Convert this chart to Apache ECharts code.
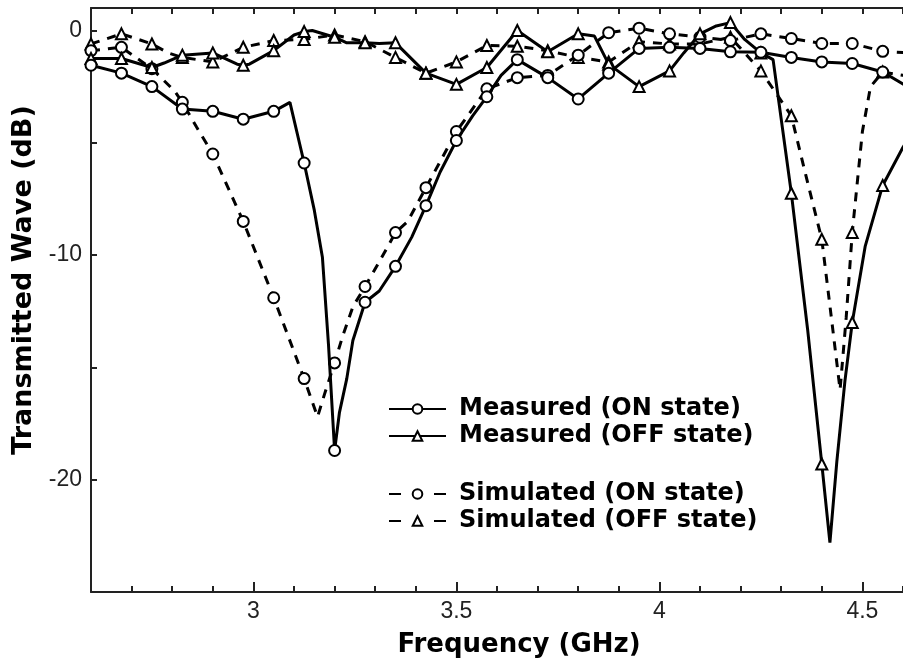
<!DOCTYPE html>
<html><head><meta charset="utf-8">
<script src="https://cdn.jsdelivr.net/npm/echarts@6/dist/echarts.min.js"></script>
<style>html,body{margin:0;padding:0;background:#fff}#c{width:903px;height:667px}</style>
</head><body><div id="c"></div><script>
// ---- data (frequency in GHz, transmission in dB) ----
const measOnX = [2.6, 2.675, 2.75, 2.825, 2.9, 2.975, 3.05, 3.09, 3.125, 3.15, 3.17, 3.185, 3.2, 3.212, 3.23, 3.245, 3.275, 3.31, 3.35, 3.39, 3.425, 3.46, 3.5, 3.54, 3.575, 3.61, 3.65, 3.725, 3.8, 3.875, 3.95, 4.025, 4.1, 4.175, 4.25, 4.325, 4.4, 4.475, 4.55, 4.62];
const measOnY = [-1.55, -1.9, -2.5, -3.5, -3.6, -3.95, -3.6, -3.2, -5.9, -8.0, -10.1, -14.0, -18.7, -17.0, -15.5, -13.8, -12.1, -11.6, -10.5, -9.2, -7.8, -6.3, -4.9, -3.8, -2.95, -2.0, -1.3, -2.1, -3.05, -1.9, -0.8, -0.75, -0.8, -0.95, -0.97, -1.2, -1.4, -1.47, -1.85, -2.6];

const measOffX = [2.6, 2.675, 2.75, 2.78, 2.825, 2.9, 2.96, 2.975, 2.99, 3.05, 3.1, 3.125, 3.145, 3.2, 3.23, 3.275, 3.31, 3.35, 3.425, 3.5, 3.575, 3.65, 3.725, 3.8, 3.84, 3.875, 3.95, 4.025, 4.06, 4.1, 4.14, 4.175, 4.21, 4.25, 4.28, 4.325, 4.365, 4.4, 4.42, 4.437, 4.457, 4.475, 4.507, 4.55, 4.6, 4.65];
const measOffY = [-1.25, -1.25, -1.65, -1.45, -1.1, -1.0, -1.5, -1.55, -1.5, -0.9, -0.2, -0.05, 0.0, -0.3, -0.55, -0.55, -0.58, -0.55, -1.9, -2.4, -1.65, 0.0, -0.95, -0.15, -0.25, -1.5, -2.5, -1.8, -1.0, -0.15, 0.2, 0.35, -0.4, -1.0, -1.3, -7.25, -13.3, -19.3, -22.8, -19.2, -15.6, -13.0, -9.6, -6.9, -5.2, -3.8];

const simOnX = [2.6, 2.675, 2.75, 2.806, 2.825, 2.86, 2.9, 2.94, 2.975, 3.05, 3.125, 3.158, 3.175, 3.2, 3.22, 3.245, 3.275, 3.31, 3.35, 3.38, 3.425, 3.5, 3.575, 3.65, 3.725, 3.8, 3.875, 3.95, 4.025, 4.1, 4.175, 4.25, 4.325, 4.4, 4.475, 4.55, 4.62];
const simOnY = [-0.9, -0.75, -1.7, -2.7, -3.2, -4.3, -5.5, -7.1, -8.5, -11.9, -15.5, -17.2, -16.2, -14.8, -13.6, -12.3, -11.4, -10.3, -9.0, -8.5, -7.0, -4.5, -2.6, -2.1, -2.0, -1.1, -0.1, 0.1, -0.15, -0.3, -0.45, -0.15, -0.36, -0.58, -0.58, -0.93, -1.0];

const simOffX = [2.6, 2.675, 2.75, 2.79, 2.825, 2.9, 2.975, 3.05, 3.125, 3.2, 3.275, 3.35, 3.425, 3.5, 3.575, 3.65, 3.725, 3.8, 3.875, 3.95, 4.025, 4.1, 4.175, 4.25, 4.325, 4.36, 4.4, 4.425, 4.445, 4.46, 4.475, 4.5, 4.52, 4.55, 4.6, 4.65];
const simOffY = [-0.6, -0.15, -0.6, -1.0, -1.2, -1.4, -0.75, -0.45, -0.4, -0.2, -0.5, -1.2, -1.9, -1.4, -0.67, -0.7, -0.9, -1.2, -1.4, -0.5, -0.6, -0.6, -0.3, -1.8, -3.8, -6.4, -9.3, -13.0, -16.0, -12.8, -9.0, -4.5, -2.5, -1.85, -2.0, -2.0];

// markers are drawn every 0.075 GHz starting at 2.6 GHz
const markerStart = 2.6, markerStep = 0.075;

const seriesNames = ['Measured (ON state)', 'Measured (OFF state)', 'Simulated (ON state)', 'Simulated (OFF state)'];
const xMajorTicks = [3, 3.5, 4, 4.5];
const yLabelTicks = [0, -10, -20];

function isMarker(x) {
  const k = (x - markerStart) / markerStep;
  return Math.abs(k - Math.round(k)) < 1e-6;
}
function build(xs, ys, sym) {
  return xs.map((x, i) => ({ value: [x, ys[i]], symbol: isMarker(x) ? sym : 'none' }));
}
function mkSeries(name, xs, ys, sym, dashed, z) {
  return {
    type: 'line', name: name, data: build(xs, ys, sym),
    symbol: sym, symbolSize: 11, showAllSymbol: true, z: z,
    lineStyle: { color: '#000', width: 3, type: dashed ? [9, 8] : 'solid' },
    itemStyle: { color: '#000', borderColor: '#000', borderWidth: 1.3 },
    emphasis: { disabled: true }
  };
}

const chart = echarts.init(document.getElementById('c'), null, { renderer: 'canvas' });
const axisColor = '#222';
const tickFont = { fontFamily: 'Liberation Sans', fontSize: 23, color: '#222' };
const boldFont = 'DejaVu Sans';

chart.setOption({
  animation: false,
  backgroundColor: '#fff',
  grid: { left: 91, right: 0, top: 8, bottom: 75, containLabel: false },
  xAxis: [
    { type: 'value', position: 'bottom', min: 2.6, max: 4.6,
      axisLine: { show: true, onZero: false, lineStyle: { color: axisColor, width: 2 } },
      axisTick: { show: true, inside: true, length: 10, customValues: xMajorTicks, lineStyle: { color: axisColor, width: 2 } },
      axisLabel: { show: true, customValues: xMajorTicks, margin: 8, ...tickFont, formatter: v => String(v) },
      splitLine: { show: false } },
    { type: 'value', position: 'bottom', min: 2.6, max: 4.6, interval: 0.1,
      axisLine: { show: false, onZero: false },
      axisTick: { show: true, inside: true, length: 6, lineStyle: { color: axisColor, width: 2 } },
      axisLabel: { show: false }, splitLine: { show: false } },
    { type: 'value', position: 'top', min: 2.6, max: 4.6, interval: 0.1,
      axisLine: { show: true, onZero: false, lineStyle: { color: axisColor, width: 2 } },
      axisTick: { show: true, inside: true, length: 6, lineStyle: { color: axisColor, width: 2 } },
      axisLabel: { show: false }, splitLine: { show: false } }
  ],
  yAxis: [
    { type: 'value', position: 'left', min: -25, max: 1, interval: 5,
      axisLine: { show: true, onZero: false, lineStyle: { color: axisColor, width: 2 } },
      axisTick: { show: true, inside: true, length: 6, lineStyle: { color: axisColor, width: 2 } },
      axisLabel: { show: true, margin: 9, ...tickFont,
        formatter: v => yLabelTicks.indexOf(Math.round(v)) >= 0 && Math.abs(v - Math.round(v)) < 1e-9 ? String(Math.round(v)) : '' },
      splitLine: { show: false } }
  ],
  legend: [
    { data: seriesNames.slice(0, 2), orient: 'vertical', left: 383, top: 392,
      itemWidth: 57, itemHeight: 12, itemGap: 3, selectedMode: false,
      textStyle: { fontFamily: boldFont, fontWeight: 'bold', fontSize: 24, lineHeight: 24, color: '#000', padding: [0, 0, 0, 8] } },
    { data: seriesNames.slice(2, 4), orient: 'vertical', left: 383, top: 477,
      itemWidth: 57, itemHeight: 12, itemGap: 3, selectedMode: false,
      lineStyle: { type: [12, 33] },
      textStyle: { fontFamily: boldFont, fontWeight: 'bold', fontSize: 24, lineHeight: 24, color: '#000', padding: [0, 0, 0, 8] } }
  ],
  graphic: [
    { type: 'text', x: 24, y: 280, rotation: Math.PI / 2,
      style: { text: 'Transmitted Wave (dB)', font: 'bold 27px "DejaVu Sans"', fill: '#000', textAlign: 'center', textVerticalAlign: 'middle' } },
    { type: 'text', x: 519, y: 645,
      style: { text: 'Frequency (GHz)', font: 'bold 26px "DejaVu Sans"', fill: '#000', textAlign: 'center', textVerticalAlign: 'middle' } }
  ],
  series: [
    mkSeries(seriesNames[3], simOffX, simOffY, 'emptyTriangle', true, 2),
    mkSeries(seriesNames[2], simOnX, simOnY, 'emptyCircle', true, 3),
    mkSeries(seriesNames[1], measOffX, measOffY, 'emptyTriangle', false, 4),
    mkSeries(seriesNames[0], measOnX, measOnY, 'emptyCircle', false, 5)
  ]
});
</script></body></html>
